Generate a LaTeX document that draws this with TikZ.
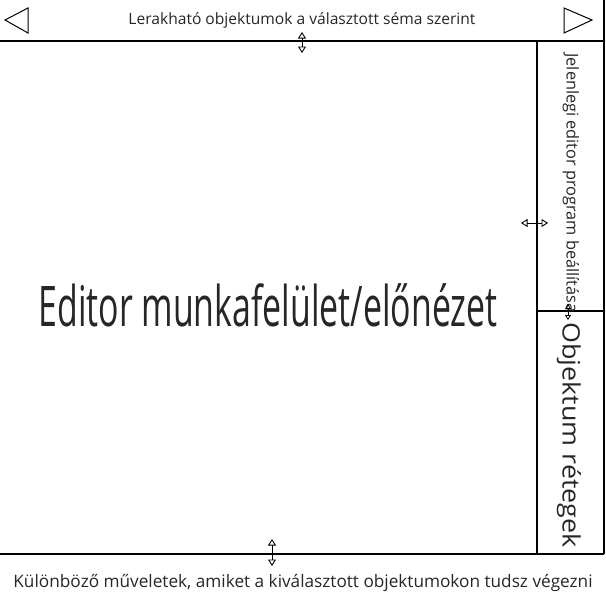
\documentclass[tikz,border=0pt]{standalone}
\usepackage{fontspec}
\setmainfont{Open Sans}
\usetikzlibrary{arrows.meta}
\begin{document}
\begin{tikzpicture}[x=1pt,y=-1pt,
  frame/.style={line width=1.3pt,black},
  tri/.style={line width=1pt,black,line join=miter},
  handle/.style={line width=0.9pt,{Triangle[open,width=8pt,length=6.5pt]}-{Triangle[open,width=8pt,length=6.5pt]}},
  smallhandle/.style={line width=0.8pt,{Triangle[open,width=6pt,length=5pt]}-{Triangle[open,width=6pt,length=5pt]}},
  lbl/.style={inner sep=0pt,text=black!85}]
\useasboundingbox (0,0) rectangle (605,605);
% frame lines
\coordinate (tl) at (0,41);
\coordinate (tr) at (604,41);
\coordinate (bl) at (0,554);
\coordinate (br) at (604,554);
\coordinate (rt) at (604,0);
\draw[frame] (tl) -- (tr);
\draw[frame] (bl) -- (br);
\draw[frame] (rt) -- (br);
% right panel
\coordinate (pl) at (537,41);
\coordinate (plb) at (537,554);
\coordinate (dl) at (537,311);
\coordinate (dr) at (604,311);
\draw[frame] (pl) -- (plb);
\draw[frame] (dl) -- (dr);
% triangles
\draw[tri] (5,20) -- (28,8) -- (28,33) -- cycle;
\draw[tri] (592,20) -- (564,8) -- (564,33) -- cycle;
% texts
\node[lbl,font=\fontsize{15.6}{18}\selectfont] (top) at (302,20) {Lerakható objektumok a választott séma szerint};
\node[lbl,font=\fontsize{17.2}{20}\selectfont] (bot) at (303,583) {Különböző műveletek, amiket a kiválasztott objektumokon tudsz végezni};
\node[lbl,font=\fontsize{56}{60}\selectfont] (main) at (268,305) {\scalebox{0.605}[1]{Editor munkafelület/előnézet}};
\node[lbl,rotate=-90,font=\fontsize{16.3}{18}\selectfont] (set) at (571,183) {Jelenlegi editor program beállítása};
\node[lbl,rotate=-90,font=\fontsize{24}{28}\selectfont] (obj) at (569,435) {\scalebox{1.12}[1]{Objektum rétegek}};
% handles
\coordinate (h1a) at (302,32);
\coordinate (h1b) at (302,53);
\draw[handle] (h1a) -- (h1b);
\coordinate (h2a) at (272,539);
\coordinate (h2b) at (272,566);
\draw[handle] (h2a) -- (h2b);
\coordinate (h3a) at (521,223);
\coordinate (h3b) at (548,223);
\draw[handle] (h3a) -- (h3b);
\coordinate (h4a) at (568,304);
\coordinate (h4b) at (568,320);
\draw[smallhandle] (h4a) -- (h4b);
\end{tikzpicture}
\end{document}
